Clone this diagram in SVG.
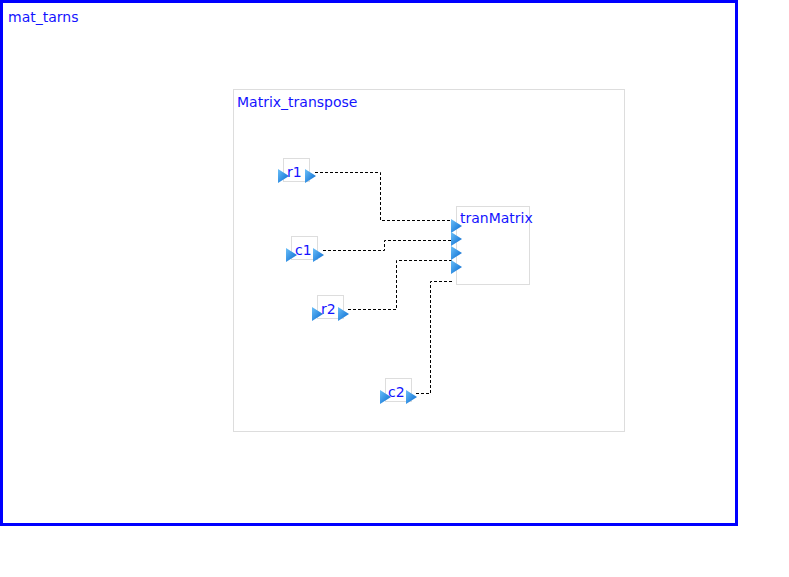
<svg xmlns="http://www.w3.org/2000/svg" width="789" height="577" viewBox="0 0 789 577">
<defs>
<linearGradient id="pg" x1="0" y1="0" x2="1" y2="1">
<stop offset="0" stop-color="#6cc0f8"/>
<stop offset="0.6" stop-color="#2c8ae0"/>
<stop offset="1" stop-color="#0f5fc0"/>
</linearGradient>
<polygon id="port" points="0,-1 11,6 0,13" fill="url(#pg)"/>
</defs>
<style>
text{font-family:"DejaVu Sans","Noto Sans",sans-serif;font-size:14px;fill:#1414ff}
.box{fill:#fff;stroke:#dddddd;stroke-width:1}
.wire{fill:none;stroke:#000;stroke-width:1;stroke-dasharray:3,2}
</style>
<rect width="789" height="577" fill="#fff"/>
<g id="mat_tarns">
<rect x="1.5" y="1.5" width="735" height="523" fill="#fff" stroke="#0000ff" stroke-width="3"/>
<text x="8" y="22">mat_tarns</text>
</g>
<g id="Matrix_transpose">
<rect class="box" x="233.5" y="89.5" width="391" height="342"/>
<text x="237" y="107">Matrix_transpose</text>
</g>
<g id="connectors">
<polyline class="wire" points="315,172.5 380.5,172.5 380.5,220.5 452,220.5"/>
<polyline class="wire" points="323,250.5 384.5,250.5 384.5,240.5 452,240.5"/>
<polyline class="wire" points="348,309.5 396.5,309.5 396.5,260.5 452,260.5"/>
<polyline class="wire" points="416,393.5 430.5,393.5 430.5,281.5 452,281.5"/>
</g>
<g id="r1">
<rect class="box" x="283.5" y="158.5" width="26" height="23"/>
<text x="287" y="177">r1</text>
<use href="#port" x="278" y="170"/>
<use href="#port" x="305" y="170"/>
</g>
<g id="c1">
<rect class="box" x="291.5" y="236.5" width="26" height="23"/>
<text x="295" y="255">c1</text>
<use href="#port" x="286" y="249"/>
<use href="#port" x="313" y="249"/>
</g>
<g id="r2">
<rect class="box" x="317.5" y="295.5" width="26" height="23"/>
<text x="321" y="314">r2</text>
<use href="#port" x="312" y="308"/>
<use href="#port" x="338" y="308"/>
</g>
<g id="c2">
<rect class="box" x="385.5" y="378.5" width="26" height="23"/>
<text x="388" y="397">c2</text>
<use href="#port" x="380" y="391"/>
<use href="#port" x="406" y="391"/>
</g>
<g id="tranMatrix">
<rect class="box" x="456.5" y="206.5" width="73" height="78"/>
<text x="460" y="223">tranMatrix</text>
<use href="#port" x="451" y="220"/>
<use href="#port" x="451" y="233"/>
<use href="#port" x="451" y="247"/>
<use href="#port" x="451" y="261"/>
</g>
</svg>
